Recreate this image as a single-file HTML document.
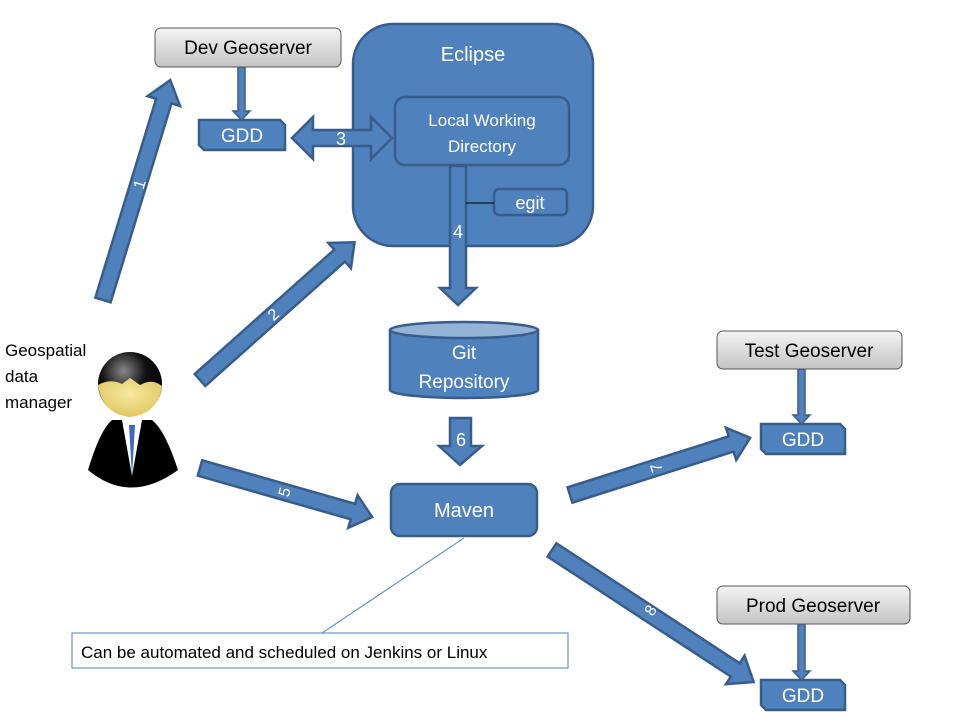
<!DOCTYPE html>
<html><head><meta charset="utf-8"><style>
html,body{margin:0;padding:0;background:#fff;}
svg{display:block;font-family:"Liberation Sans",sans-serif;}
</style></head><body>
<svg width="960" height="720" viewBox="0 0 960 720" xmlns="http://www.w3.org/2000/svg">
<defs>
<linearGradient id="gs" x1="0" y1="0" x2="0" y2="1">
<stop offset="0" stop-color="#f4f4f4"/><stop offset="1" stop-color="#c4c4c4"/></linearGradient>
<radialGradient id="face" cx="0.5" cy="0.4" r="0.6"><stop offset="0" stop-color="#f8e8a0"/><stop offset="1" stop-color="#e0c860"/></radialGradient>
<radialGradient id="head" cx="0.4" cy="0.3" r="0.7"><stop offset="0" stop-color="#888"/><stop offset="0.5" stop-color="#111"/><stop offset="1" stop-color="#000"/></radialGradient>
</defs>
<g fill="#4f81bd" stroke="#385d8a" stroke-width="2.5">
<!-- Eclipse -->
<rect x="353" y="24" width="240" height="222" rx="40"/>
<rect x="395" y="97" width="174" height="68" rx="10"/>
<rect x="494" y="189" width="73" height="26" rx="5"/>
<!-- arrow 4 -->
<polygon points="450,166 466,166 466,288 476,288 458,305 440,288 450,288"/>
<!-- arrow 3 -->
<polygon points="292,138 313,117 313,130 371,130 371,117 392,138 371,159 371,146 313,146 313,159"/>
<!-- GDD dev -->
<polygon points="199,120 280,120 285,125 285,150 204,150 199,145"/>
<polygon points="761,424 840,424 845,429 845,454 766,454 761,449"/>
<polygon points="761,680 840,680 845,685 845,710 766,710 761,705"/>
<!-- git cylinder -->
<path d="M390,330 L390,390 A74,8 0 0 0 538,390 L538,330 Z"/>
<ellipse cx="464" cy="330" rx="74" ry="8" fill="#95b3d7"/>
<!-- arrow 6 -->
<polygon points="450,418 471,418 471,446 482,446 460,465 439,446 450,446"/>
<!-- Maven -->
<rect x="391" y="484" width="146" height="52" rx="9"/>
<!-- diagonal arrows -->
<g transform="translate(103,300) rotate(-73)"><polygon points="0,-8 208,-8 208,-17 230,0 208,17 208,8 0,8"/></g>
<g transform="translate(200,380) rotate(-41.7)"><polygon points="0,-8 187,-8 187,-17 207,0 187,17 187,8 0,8"/></g>
<g transform="translate(200,468) rotate(15.9)"><polygon points="0,-8 159,-8 159,-17 179,0 159,17 159,8 0,8"/></g>
<g transform="translate(570,495) rotate(-17.6)"><polygon points="0,-8 169,-8 169,-17 189,0 169,17 169,8 0,8"/></g>
<g transform="translate(552,550) rotate(33.2)"><polygon points="0,-8 219,-8 219,-17 241,0 219,17 219,8 0,8"/></g>
</g>
<g fill="#4f81bd" stroke="#385d8a" stroke-width="1.5">
<polygon points="238,67 245,67 245,111 250,111 241.5,120 233,111 238,111"/>
<polygon points="798,369 805,369 805,415 810,415 801.5,424 793,415 798,415"/>
<polygon points="798,624 805,624 805,671 810,671 801.5,680 793,671 798,671"/>
</g>
<line x1="466" y1="203" x2="494" y2="203" stroke="#000" stroke-width="1"/>
<!-- geoservers -->
<g fill="url(#gs)" stroke="#555" stroke-width="1">
<rect x="155" y="28" width="186" height="39" rx="6"/>
<rect x="717" y="331" width="185" height="38" rx="6"/>
<rect x="717" y="586" width="193" height="38" rx="6"/>
</g>
<g font-size="19" fill="#000" text-anchor="middle">
<text x="248" y="54">Dev Geoserver</text>
<text x="809" y="357">Test Geoserver</text>
<text x="813" y="612">Prod Geoserver</text>
</g>
<g fill="#fff" text-anchor="middle">
<text x="473" y="61" font-size="20">Eclipse</text>
<text x="482" y="126" font-size="17">Local Working</text>
<text x="482" y="152" font-size="17">Directory</text>
<text x="530" y="209" font-size="18">egit</text>
<text x="242" y="142" font-size="19">GDD</text>
<text x="803" y="446" font-size="19">GDD</text>
<text x="803" y="702" font-size="19">GDD</text>
<text x="464" y="359" font-size="19">Git</text>
<text x="464" y="388" font-size="19">Repository</text>
<text x="464" y="517" font-size="20">Maven</text>
<text x="341" y="145" font-size="18">3</text>
<text x="458" y="238" font-size="18">4</text>
<text x="461" y="446" font-size="18">6</text>
<text x="139" y="190" font-size="16" transform="rotate(-73 139 184)">1</text>
<text x="273" y="320" font-size="16" transform="rotate(-41.7 273 314)">2</text>
<text x="284" y="498" font-size="16" transform="rotate(-74 284 492)">5</text>
<text x="656" y="474" font-size="16" transform="rotate(-107 656 468)">7</text>
<text x="650" y="616" font-size="16" transform="rotate(-57 650 610)">8</text>
</g>
<!-- callout -->
<line x1="464" y1="538" x2="322" y2="633" stroke="#4f81bd" stroke-width="1"/>
<rect x="72" y="633" width="496" height="35" fill="#fff" stroke="#4f81bd" stroke-width="1"/>
<text x="81" y="658" font-size="17" fill="#000">Can be automated and scheduled on Jenkins or Linux</text>
<!-- person label -->
<g font-size="17" fill="#000"><text x="5" y="356">Geospatial</text><text x="5" y="382">data</text><text x="5" y="408">manager</text></g>
<!-- person -->
<path d="M112,420 Q100,430 88,470 Q130,505 178,470 Q165,430 152,420 Z" fill="#000"/>
<path d="M122,420 L132,476 L142,420 Z" fill="#fff"/>
<path d="M129,425 L132,476 L135,425 Z" fill="#3a6bc0"/>
<circle cx="130" cy="384" r="32" fill="url(#head)"/>
<path d="M98,385 Q110,378 122,384 L130,378 L140,385 Q152,378 162,386 Q158,414 130,417 Q102,414 98,385 Z" fill="url(#face)"/>
</svg>
</body></html>
